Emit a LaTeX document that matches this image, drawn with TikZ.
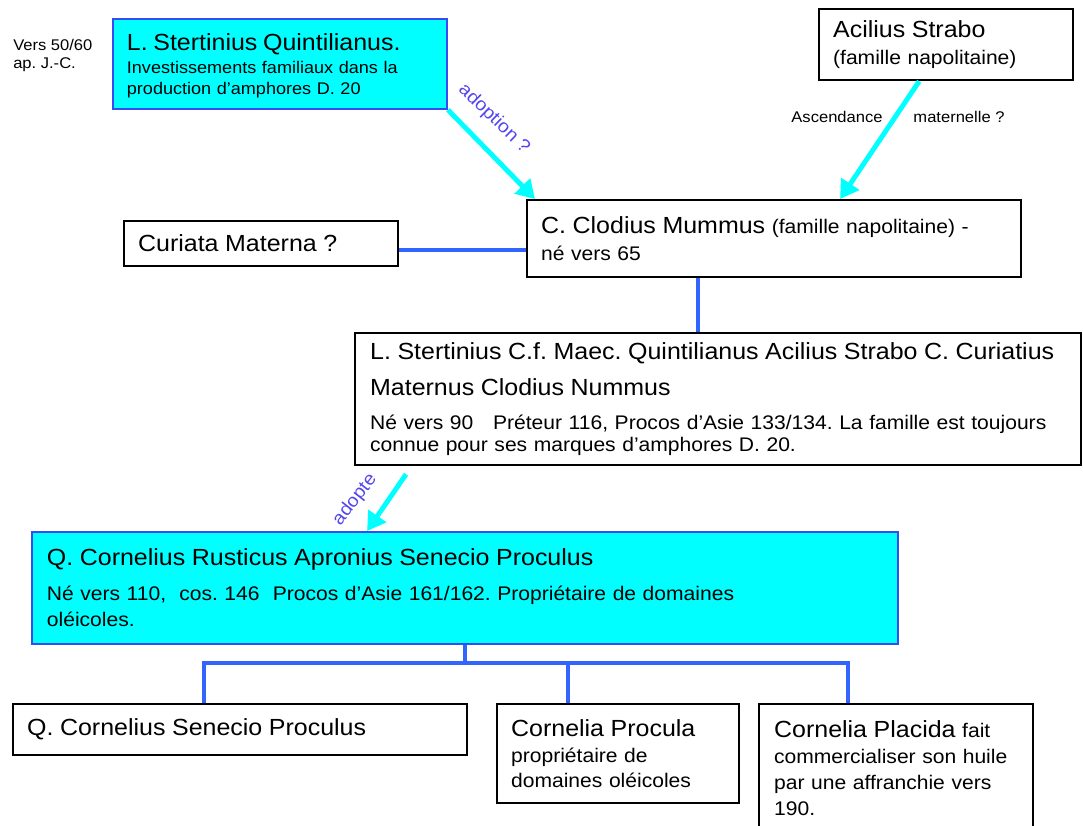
\documentclass[tikz,border=0pt]{standalone}
\usepackage{fontspec}
\setmainfont{Liberation Sans}[FakeStretch=1.07]
\usetikzlibrary{arrows.meta}
\definecolor{famcyan}{RGB}{0,255,255}
\definecolor{famblue}{RGB}{50,100,255}
\definecolor{boxblue}{RGB}{55,75,245}
\definecolor{labblue}{RGB}{85,70,235}
\newcommand{\fbig}{\fontsize{16.6}{20}\selectfont}
\newcommand{\fmed}{\fontsize{14}{17.5}\selectfont}
\newcommand{\fsmall}{\fontsize{12}{15}\selectfont}
\newcommand{\ftiny}{\fontsize{11}{12.8}\selectfont}
\hyphenpenalty=10000
\exhyphenpenalty=10000
\frenchspacing
\begin{document}
\begin{tikzpicture}[x=0.025cm,y=-0.025cm,
  person/.style={draw=black,line width=1.6pt,fill=white,anchor=north west,
    align=left,inner xsep=0.35cm,inner ysep=0pt,font=\fmed},
  adopted/.style={person,draw=boxblue,line width=1.3pt,fill=famcyan},
  famline/.style={famblue,line width=2.8pt},
  adoptarrow/.style={famcyan,line width=3.5pt,-{Triangle[length=13pt,width=15pt]}},
  sidenote/.style={font=\ftiny,inner sep=0pt,align=left}]
\useasboundingbox (0,0) rectangle (1083,826);
% generation 1
\node[sidenote,anchor=north west] (vers) at (13,39) {Vers 50/60\\ap. J.-C.};
\node[adopted,minimum width=8.35cm,minimum height=2.25cm,text width=7.65cm,
  font=\fsmall] (quint) at (112,18)
  {{\fbig\rule{0pt}{15pt}L. Stertinius Quintilianus.}\\[1.5pt]
   Investissements familiaux dans la\\production d'amphores D. 20};
\node[person,minimum width=6.35cm,minimum height=1.775cm,text width=5.65cm] (acilius) at (818,8)
  {{\fbig Acilius Strabo}\\[1.6pt](famille napolitaine)};
% generation 2
\node[person,minimum width=6.8cm,minimum height=1.125cm,text width=6.15cm] (curiata) at (123,220)
  {{\fbig Curiata Materna ?}};
\node[person,minimum width=12.35cm,minimum height=1.925cm,text width=11.65cm] (clodius) at (526,199)
  {{\fbig C. Clodius Mummus} (famille napolitaine) -\\[1.6pt]né vers 65};
% generation 3
\node[person,minimum width=18.15cm,minimum height=3.3cm,text width=17.4cm,
  font={\fontsize{14}{15.6}\selectfont}] (stert) at (354,332)
  {{\fbig L. Stertinius C.f. Maec. Quintilianus Acilius Strabo C. Curiatius}\\[9.9pt]
   {\fbig Maternus Clodius Nummus}\\[8.5pt]
   Né vers 90~~ Préteur 116, Procos d'Asie 133/134. La famille est toujours\\
   connue pour ses marques d'amphores D. 20.};
% generation 4
\node[adopted,minimum width=21.65cm,minimum height=2.8cm,text width=20.9cm,
  font={\fontsize{14}{18.4}\selectfont}] (rust) at (31,531)
  {{\fbig Q. Cornelius Rusticus Apronius Senecio Proculus}\\[6.4pt]
   Né vers 110,~ cos. 146~ Procos d'Asie 161/162. Propriétaire de domaines\\
   oléicoles.};
% generation 5
\node[person,minimum width=11.35cm,minimum height=1.275cm,text width=10.65cm] (senecio) at (12,703)
  {{\fbig Q. Cornelius Senecio Proculus}};
\node[person,minimum width=6.05cm,minimum height=2.475cm,text width=5.35cm] (procula) at (496,703)
  {{\fbig Cornelia Procula}\\[0.9pt]propriétaire de\\domaines oléicoles};
\node[person,minimum width=6.85cm,minimum height=3.2cm,text width=6.1cm,
  font={\fontsize{14}{18.4}\selectfont}] (placida) at (758,703)
  {{\fbig Cornelia Placida} fait\\commercialiser son huile\\par une affranchie vers\\190.};
% coordinates
\coordinate (mat) at (0,250);
\coordinate (desc) at (698,0);
\coordinate (tA) at (204,663);
\coordinate (tB) at (568,663);
\coordinate (tC) at (848,663);
% adoptions and ascendance
\draw[adoptarrow] (quint.south east) -- ([xshift=0.225cm]clodius.north west);
\node[sidenote,text=labblue,rotate=-44,font=\fontsize{13}{15}\selectfont] (lbadopt) at (494,119) {adoption ?};
\draw[adoptarrow] ([xshift=-0.675cm]acilius.south) -- ([xshift=7.85cm]clodius.north west);
\node[sidenote] (lbasc) at (898,117) {Ascendance\hspace{22pt}maternelle ?};
\draw[adoptarrow] ([xshift=1.3cm,yshift=-0.2cm]stert.south west) -- ([xshift=8.4cm]rust.north west);
\node[sidenote,text=labblue,rotate=52,font=\fontsize{13}{15}\selectfont] (lbadopte) at (355,500) {adopte};
% family lines
\draw[famline] (curiata.east |- mat) -- (clodius.west |- mat);
\draw[famline] (clodius.south -| desc) -- (stert.north -| desc);
\draw[famline] (rust.south) -- (rust.south |- tA);
\draw[famline,line cap=rect] (tA) -- (tC);
\draw[famline] (tA) -- (senecio.north -| tA);
\draw[famline] (tB) -- (procula.north -| tB);
\draw[famline] (tC) -- (placida.north -| tC);
\end{tikzpicture}
\end{document}
